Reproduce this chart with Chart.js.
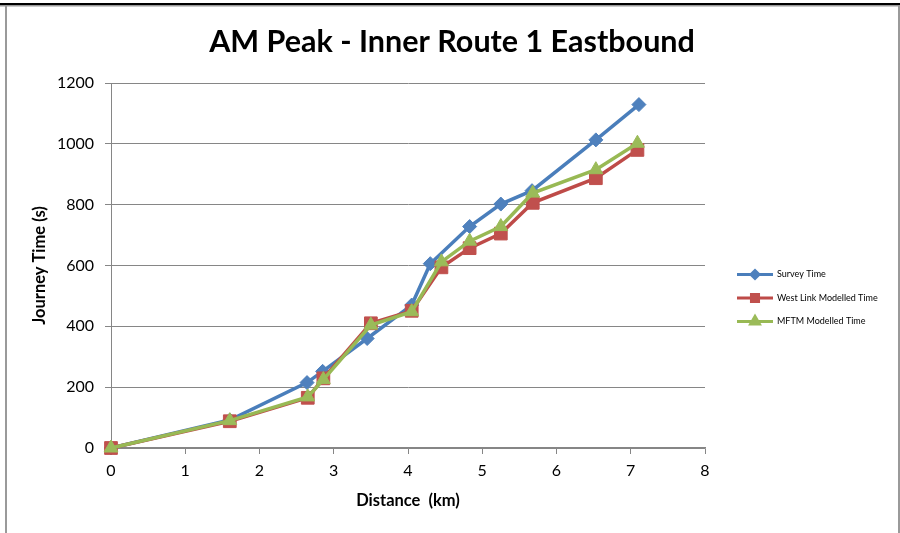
<!DOCTYPE html>
<html>
<head>
<meta charset="utf-8">
<title>AM Peak - Inner Route 1 Eastbound</title>
<script src="https://cdn.jsdelivr.net/npm/chart.js@4.4.0/dist/chart.umd.min.js"></script>
<style>
  html, body { margin: 0; padding: 0; background: #ffffff; }
  #wrap { width: 900px; height: 533px; }
</style>
</head>
<body>
<div id="wrap"><canvas id="chart" width="900" height="533"></canvas></div>
<script>
// Survey run: cumulative distance (km) and journey time (s)
const surveyKm   = [0, 1.60, 2.64, 2.85, 3.45, 4.05, 4.30, 4.83, 5.25, 5.67, 6.53, 7.11];
const surveyTime = [0, 92, 215, 252, 360, 470, 606, 728, 802, 846, 1013, 1129];

// Modelled timing points share the same distances
const modelKm      = [0, 1.60, 2.65, 2.86, 3.50, 4.05, 4.45, 4.83, 5.25, 5.68, 6.53, 7.09];
const westLinkTime = [0, 88, 165, 229, 410, 451, 594, 657, 705, 806, 887, 980];
const mftmTime     = [0, 90, 168, 225, 404, 448, 612, 680, 728, 838, 915, 1002];

const chartTitle = 'AM Peak - Inner Route 1 Eastbound';
const seriesNames = ['Survey Time', 'West Link Modelled Time', 'MFTM Modelled Time'];
const xTicks = [0, 1, 2, 3, 4, 5, 6, 7, 8];
const yTicks = [0, 200, 400, 600, 800, 1000, 1200];

const toPoints = (xs, ys) => xs.map((x, i) => ({ x: x, y: ys[i] }));

const FONT = 'Lato, "Open Sans", sans-serif';
const GRID = '#868686';

// White page, the thin frame around the chart object and the centred heading
const framePlugin = {
  id: 'frame',
  beforeDraw(chart) {
    const { ctx, width, height } = chart;
    ctx.save();
    ctx.fillStyle = '#ffffff';
    ctx.fillRect(0, 0, width, height);
    ctx.restore();
  },
  afterDraw(chart) {
    const { ctx, width, height } = chart;
    ctx.save();
    ctx.fillStyle = '#000000';
    ctx.fillRect(0, 3, width, 2);
    ctx.fillStyle = '#9a9a9a';
    ctx.fillRect(0, 5, width, 1.5);
    ctx.fillRect(5, 5, 2, height - 5);
    ctx.fillRect(898, 5, 2, height - 5);

    ctx.fillStyle = '#000000';
    ctx.font = 'bold 30.5px ' + FONT;
    ctx.textAlign = 'center';
    ctx.textBaseline = 'middle';
    ctx.fillText(chartTitle, width / 2 + 2, 42);
    ctx.restore();
  }
};

// Legend on the right: short line with its marker, then the series name
const sideLegend = {
  id: 'sideLegend',
  afterDraw(chart) {
    const ctx = chart.ctx;
    const x0 = 737, x1 = 773, tx = 777;
    chart.data.datasets.forEach((ds, i) => {
      const y = 274.5 + i * 23.5;
      ctx.save();
      ctx.strokeStyle = ds.borderColor;
      ctx.lineWidth = 3;
      ctx.beginPath();
      ctx.moveTo(x0, y);
      ctx.lineTo(x1, y);
      ctx.stroke();
      ctx.fillStyle = ds.pointBackgroundColor;
      ctx.strokeStyle = ds.pointBackgroundColor;
      Chart.helpers.drawPoint(ctx, {
        pointStyle: ds.pointStyle,
        radius: ds.legendRadius,
        borderWidth: 1,
        rotation: 0
      }, (x0 + x1) / 2, y);
      ctx.fillStyle = '#000000';
      ctx.font = '9px ' + FONT;
      ctx.textAlign = 'left';
      ctx.textBaseline = 'middle';
      ctx.fillText(ds.label, tx, y);
      ctx.restore();
    });
  }
};

const datasets = [
  {
    label: seriesNames[0],
    data: toPoints(surveyKm, surveyTime),
    borderColor: '#4A7EBB',
    pointBackgroundColor: '#4F81BD',
    pointBorderColor: '#4F81BD',
    pointStyle: 'rectRot',
    pointRadius: 7,
    legendRadius: 4,
    order: 3
  },
  {
    label: seriesNames[1],
    data: toPoints(modelKm, westLinkTime),
    borderColor: '#BE4B48',
    pointBackgroundColor: '#C0504D',
    pointBorderColor: '#C0504D',
    pointStyle: 'rect',
    pointRadius: 9,
    legendRadius: 5,
    order: 2
  },
  {
    label: seriesNames[2],
    data: toPoints(modelKm, mftmTime),
    borderColor: '#98B954',
    pointBackgroundColor: '#9BBB59',
    pointBorderColor: '#9BBB59',
    pointStyle: 'triangle',
    pointRadius: 8,
    legendRadius: 5,
    order: 1
  }
].map(ds => Object.assign({
  showLine: true,
  borderWidth: 3.5,
  pointBorderWidth: 1,
  pointHoverRadius: ds.pointRadius,
  tension: 0,
  fill: false,
  clip: false
}, ds));

new Chart(document.getElementById('chart'), {
  type: 'scatter',
  data: { datasets: datasets },
  options: {
    responsive: false,
    animation: false,
    devicePixelRatio: 1,
    layout: { padding: { top: 83, left: 26, right: 195, bottom: 18 } },
    plugins: {
      legend: { display: false },
      tooltip: { enabled: false },
      title: { display: false }
    },
    scales: {
      x: {
        type: 'linear',
        min: xTicks[0],
        max: xTicks[xTicks.length - 1],
        afterBuildTicks: s => { s.ticks = xTicks.map(v => ({ value: v })); },
        afterFit: s => { s.height = 67; },
        ticks: {
          color: '#000000',
          font: { family: FONT, size: 16 },
          padding: 7,
          maxRotation: 0,
          callback: v => String(v)
        },
        grid: { drawOnChartArea: false, drawTicks: true, tickLength: 6, color: GRID, lineWidth: 1 },
        border: { display: true, color: GRID, width: 1.5 },
        title: {
          display: true,
          text: 'Distance  (km)',
          color: '#000000',
          font: { family: FONT, size: 16.5, weight: 'bold' },
          padding: { top: 4, bottom: 4 }
        }
      },
      y: {
        type: 'linear',
        min: yTicks[0],
        max: yTicks[yTicks.length - 1],
        afterBuildTicks: s => { s.ticks = yTicks.map(v => ({ value: v })); },
        afterFit: s => { s.width = 85; },
        ticks: {
          color: '#000000',
          font: { family: FONT, size: 16 },
          padding: 11,
          callback: v => String(v)
        },
        grid: { color: GRID, lineWidth: 1, tickLength: 6 },
        border: { display: true, color: GRID, width: 1 },
        title: {
          display: true,
          text: 'Journey Time (s)',
          color: '#000000',
          font: { family: FONT, size: 16.5, weight: 'bold' },
          padding: { top: 4, bottom: 4 }
        }
      }
    }
  },
  plugins: [framePlugin, sideLegend]
});
</script>
</body>
</html>
